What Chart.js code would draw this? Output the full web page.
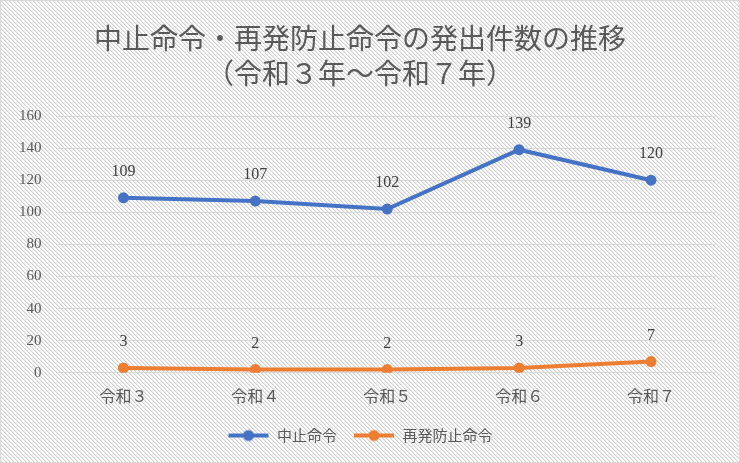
<!DOCTYPE html>
<html lang="ja">
<head>
<meta charset="utf-8">
<script src="https://cdn.jsdelivr.net/npm/chart.js@4/dist/chart.umd.min.js"></script>
<style>
  html, body { margin: 0; padding: 0; }
  body {
    width: 740px; height: 463px; box-sizing: border-box;
    border: 1px solid #d9d9d9;
    background-color: #ffffff;
  }
  #wrap { position: relative; width: 738px; height: 461px; }
</style>
</head>
<body>
<div id="wrap"><canvas id="chart"></canvas></div>
<script>
const TITLE_LINES = ["中止命令・再発防止命令の発出件数の推移", "（令和３年～令和７年）"];
const CATEGORIES = ["令和３", "令和４", "令和５", "令和６", "令和７"];
const SUSPEND = [109, 107, 102, 139, 120];
const REPEAT_PREVENT = [3, 2, 2, 3, 7];
const Y_TICKS = [0, 20, 40, 60, 80, 100, 120, 140, 160];

const BLUE = "#4472C4";
const ORANGE = "#ED7D31";
const SERIF = "'Liberation Serif', 'DejaVu Serif', 'Noto Sans CJK JP', serif";
const CJK = "'Noto Sans CJK JP', sans-serif";

// fine diagonal hatch used as the page background
function hatchTile() {
    const c = document.createElement("canvas");
    c.width = 4;
    c.height = 4;
    const g = c.getContext("2d");
    g.fillStyle = "#ffffff";
    g.fillRect(0, 0, 4, 4);
    for (let i = 0; i < 4; i++) {
        g.fillStyle = "#d0d0d0";
        g.fillRect(i, i, 1, 1);
        g.fillStyle = "#ebebeb";
        g.fillRect((i + 1) % 4, i, 1, 1);
    }
    return c.toDataURL();
}
document.body.style.backgroundImage = "url(" + hatchTile() + ")";

function legendIcon(color) {
    const c = document.createElement("canvas");
    c.width = 42;
    c.height = 14;
    const g = c.getContext("2d");
    g.strokeStyle = color;
    g.lineWidth = 4;
    g.beginPath();
    g.moveTo(1, 7);
    g.lineTo(41, 7);
    g.stroke();
    g.fillStyle = color;
    g.beginPath();
    g.arc(21, 7, 5.5, 0, Math.PI * 2);
    g.fill();
    return c;
}

// numbers drawn above each point
const valueLabels = {
    id: "valueLabels",
    afterDatasetsDraw(chart) {
        const ctx = chart.ctx;
        ctx.save();
        ctx.font = "16px " + SERIF;
        ctx.fillStyle = "#404040";
        ctx.textAlign = "center";
        ctx.textBaseline = "middle";
        chart.data.datasets.forEach((ds, i) => {
            chart.getDatasetMeta(i).data.forEach((pt, j) => {
                ctx.fillText(String(ds.data[j]), pt.x, pt.y - 26);
            });
        });
        ctx.restore();
    }
};

Chart.defaults.font.family = CJK;

new Chart(document.getElementById("chart"), {
    type: "line",
    data: {
        labels: CATEGORIES,
        datasets: [{
            label: "中止命令",
            data: SUSPEND,
            borderColor: BLUE,
            backgroundColor: BLUE,
            borderWidth: 4,
            pointRadius: 5.5,
            pointBackgroundColor: BLUE,
            pointBorderWidth: 0,
            tension: 0
        }, {
            label: "再発防止命令",
            data: REPEAT_PREVENT,
            borderColor: ORANGE,
            backgroundColor: ORANGE,
            borderWidth: 4,
            pointRadius: 5.5,
            pointBackgroundColor: ORANGE,
            pointBorderWidth: 0,
            tension: 0
        }]
    },
    options: {
        responsive: true,
        maintainAspectRatio: false,
        devicePixelRatio: 1,
        animation: false,
        layout: { padding: { left: 2, right: 22, top: 0, bottom: 9 } },
        scales: {
            x: {
                offset: true,
                grid: { display: false },
                border: { display: false },
                ticks: { color: "#595959", font: { size: 16, family: CJK }, padding: 6 }
            },
            y: {
                min: 0,
                max: 160,
                afterBuildTicks: (axis) => { axis.ticks = Y_TICKS.map(v => ({ value: v })); },
                grid: { color: "#d9d9d9", lineWidth: 1, drawTicks: false },
                border: { display: false },
                ticks: { color: "#595959", font: { size: 15, family: SERIF }, padding: 16 }
            }
        },
        plugins: {
            title: {
                display: true,
                text: TITLE_LINES,
                color: "#595959",
                font: { size: 28, family: CJK, weight: "normal", lineHeight: 1.25 },
                padding: { top: 20, bottom: 25 }
            },
            legend: {
                position: "bottom",
                labels: {
                    color: "#595959",
                    font: { size: 15, family: CJK },
                    usePointStyle: true,
                    pointStyleWidth: 42,
                    padding: 16,
                    generateLabels: (chart) => chart.data.datasets.map((ds, i) => ({
                        text: ds.label,
                        pointStyle: legendIcon(ds.borderColor),
                        fillStyle: ds.borderColor,
                        strokeStyle: ds.borderColor,
                        fontColor: "#595959",
                        lineWidth: 0,
                        datasetIndex: i
                    }))
                }
            },
            tooltip: { enabled: false }
        }
    },
    plugins: [valueLabels]
});
</script>
</body>
</html>
